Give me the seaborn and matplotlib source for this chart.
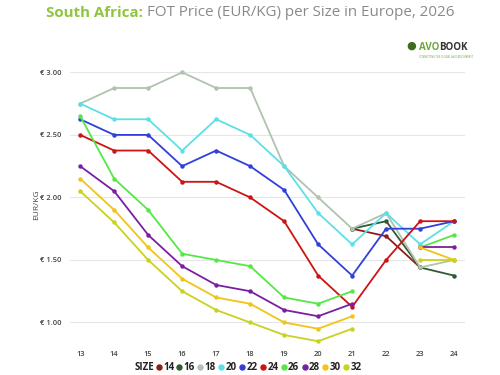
import numpy as np
import pandas as pd
import matplotlib
matplotlib.use("Agg")
import matplotlib.pyplot as plt
from matplotlib.lines import Line2D
import seaborn as sns

nan = np.nan
weeks = [13, 14, 15, 16, 17, 18, 19, 20, 21, 22, 23, 24]
sizes = ["14", "16", "18", "20", "22", "24", "26", "28", "30", "32"]

s14 = [nan, nan, nan, nan, nan, nan, nan, nan, 1.75, 1.69, 1.44, nan]
s16 = [nan, nan, nan, nan, nan, nan, nan, nan, 1.75, 1.81, 1.44, 1.375]
s18 = [2.75, 2.875, 2.875, 3.00, 2.875, 2.875, 2.25, 2.00, 1.75, 1.875, 1.44, 1.50]
s20 = [2.75, 2.625, 2.625, 2.375, 2.625, 2.50, 2.25, 1.875, 1.625, 1.875, 1.625, 1.81]
s22 = [2.625, 2.50, 2.50, 2.25, 2.375, 2.25, 2.06, 1.625, 1.375, 1.75, 1.75, 1.81]
s24 = [2.50, 2.375, 2.375, 2.125, 2.125, 2.00, 1.81, 1.375, 1.125, 1.50, 1.81, 1.81]
s26 = [2.65, 2.15, 1.90, 1.55, 1.50, 1.45, 1.20, 1.15, 1.25, nan, 1.60, 1.70]
s28 = [2.25, 2.05, 1.70, 1.45, 1.30, 1.25, 1.10, 1.05, 1.15, nan, 1.60, 1.60]
s30 = [2.15, 1.90, 1.60, 1.35, 1.20, 1.15, 1.00, 0.95, 1.05, nan, 1.60, 1.50]
s32 = [2.05, 1.80, 1.50, 1.25, 1.10, 1.00, 0.90, 0.85, 0.95, nan, 1.50, 1.50]
series = [s14, s16, s18, s20, s22, s24, s26, s28, s30, s32]

colors = ["#8E1B1B", "#2F5A35", "#AFC3AE", "#5CE0E8", "#3040D8",
          "#CC1414", "#55E845", "#7B1FA2", "#F0C419", "#C9D21E"]
yticks = [1.00, 1.50, 2.00, 2.50, 3.00]
ytick_labels = ["€ 1.00", "€ 1.50", "€ 2.00", "€ 2.50", "€ 3.00"]

sns.set_style("white")
plt.rcParams['font.family'] = ['Open Sans', 'DejaVu Sans']

fig = plt.figure(figsize=(5, 3.75), dpi=100)
ax = fig.add_axes([0.14, 0.08, 0.79, 0.747])

for name, vals, col in zip(sizes, series, colors):
    df = pd.DataFrame({"week": weeks, "price": vals})
    valid = df["price"].notna()
    seg_id = (~valid).cumsum()
    for _, seg in df[valid].groupby(seg_id[valid]):
        sns.lineplot(data=seg, x="week", y="price", color=col, marker="o",
                     markersize=3.2, markeredgewidth=0, linewidth=1.3,
                     ax=ax, legend=False, sort=False)

ax.set_xlim(12.7, 24.32)
ax.set_ylim(0.82, 3.06)
ax.set_xticks(weeks)
ax.set_xticklabels([str(w) for w in weeks])
ax.set_yticks(yticks)
ax.set_yticklabels(ytick_labels)
ax.tick_params(axis="both", length=0, labelsize=5.4, labelcolor="#444444")
ax.tick_params(axis="x", pad=4)
ax.tick_params(axis="y", pad=6)
for lab in ax.get_xticklabels() + ax.get_yticklabels():
    lab.set_fontweight("semibold")
ax.grid(axis="y", color="#E6E6E6", linewidth=0.8)
ax.grid(axis="x", visible=False)
for sp in ax.spines.values():
    sp.set_visible(False)
ax.set_xlabel("")
ax.set_ylabel("EUR/KG", fontsize=6, color="#444444", labelpad=0)

fig.canvas.draw()
r = fig.canvas.get_renderer()

# Title
t1 = fig.text(0.09, 0.966, "South Africa:", fontsize=10.9, fontweight="bold",
              color="#8DC63F", ha="left", va="center")
bb = t1.get_window_extent(r)
t2 = fig.text(bb.x1 / 500 + 0.008, 0.966, "FOT Price (EUR/KG) per Size in Europe, 2026",
              fontsize=10.9, color="#8A8A8A", ha="left", va="center")
fig.canvas.draw()
b1 = t1.get_window_extent(r)
b2 = t2.get_window_extent(r)
total = b2.x1 - b1.x0
shift = (250 - total / 2) - b1.x0
t1.set_x((b1.x0 + shift) / 500)
t2.set_x((b2.x0 + shift) / 500)

# Logo text
fig.text(0.838, 0.873, "AVO", fontsize=7, fontweight="bold", color="#6AA83A",
         ha="left", va="center")
fig.text(0.879, 0.873, "BOOK", fontsize=7, fontweight="bold", color="#333333",
         ha="left", va="center")
fig.text(0.812, 0.876, "\u25cf", fontsize=8, color="#3E6B1F", ha="left", va="center")
fig.text(0.838, 0.848, "CONNECTING THE GLOBAL AVOCADO MARKET", fontsize=1.8,
         color="#6AA83A", ha="left", va="center")

# Legend
handles = [Line2D([], [], color=c, marker="o", linestyle="none", markersize=3.6)
           for c in colors]
leg = fig.legend(handles, sizes, loc="center left", bbox_to_anchor=(0.32, 0.019),
                 ncol=10, frameon=False, handletextpad=0.2, columnspacing=0.3,
                 handlelength=0.5, borderaxespad=0, borderpad=0,
                 prop={"size": 7, "weight": "bold"})
for t in leg.get_texts():
    t.set_color("#222222")
size_t = fig.text(0.0, 0.019, "SIZE", fontsize=7, fontweight="bold", color="#222222",
                  ha="left", va="center")
fig.canvas.draw()
lb = leg.get_window_extent(r)
sb = size_t.get_window_extent(r)
gap = 2
total = sb.width + gap + lb.width
x0 = 248 - total / 2
size_t.set_x(x0 / 500)
leg.set_bbox_to_anchor(((x0 + sb.width + gap) / 500, 0.019), transform=fig.transFigure)

fig.savefig("out.png", dpi=100)
